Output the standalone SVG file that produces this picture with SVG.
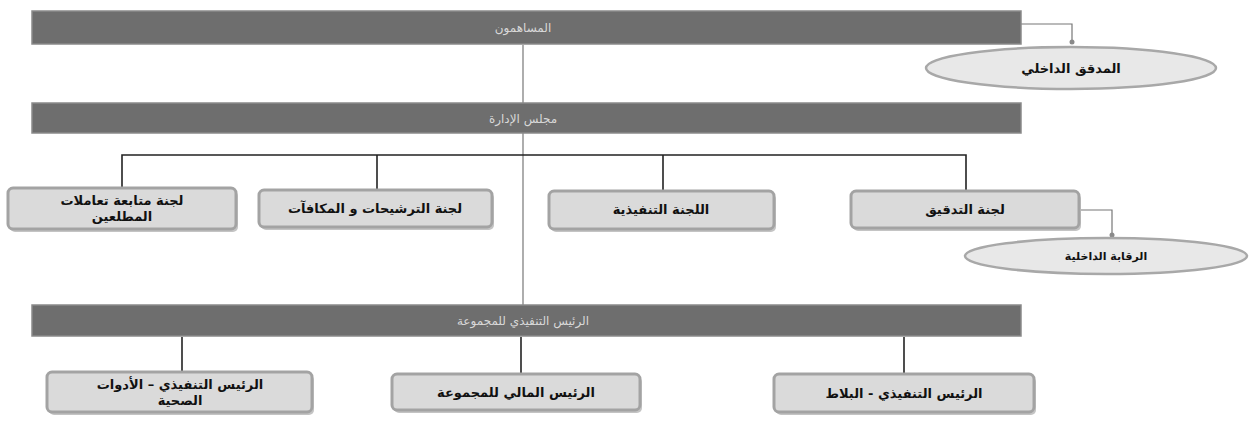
<svg xmlns="http://www.w3.org/2000/svg" width="1254" height="421" viewBox="0 0 1254 421">
<defs>
<style>
.bar{fill:#6e6e6e;stroke:#8a8a8a;stroke-width:1.5}
.bt{font-family:"DejaVu Sans",sans-serif;font-size:12px;fill:#d8d8d8;text-anchor:middle}
.box{fill:#dadada;stroke:#a3a3a3;stroke-width:3}
.shadow{fill:#c4c4c4}
.t{font-family:"DejaVu Sans",sans-serif;font-size:13px;font-weight:bold;fill:#111;text-anchor:middle}
.el{fill:#e8e8e8;stroke:#a8a8a8;stroke-width:2.5}
.ln{stroke:#222;stroke-width:1.6;fill:none}
.lg{stroke:#777;stroke-width:1.2;fill:none}
</style>
<marker id="dot" markerWidth="6" markerHeight="6" refX="3" refY="3" markerUnits="userSpaceOnUse">
<circle cx="3" cy="3" r="2.5" fill="#8a8a8a"/>
</marker>
</defs>
<rect width="1254" height="421" fill="#ffffff"/>
<g id="connectors">
<line class="lg" x1="523" y1="45" x2="523" y2="103"/>
<line class="lg" x1="523" y1="133" x2="523" y2="305"/>
<polyline class="ln" points="122,187 122,155 966,155 966,191"/>
<line class="ln" x1="377" y1="155" x2="377" y2="190"/>
<line class="ln" x1="663" y1="155" x2="663" y2="191"/>
<polyline class="lg" points="1021,24 1072,24 1072,42" marker-end="url(#dot)"/>
<polyline class="lg" points="1080,210 1112,210 1112,235" marker-end="url(#dot)"/>
<line class="ln" x1="182" y1="337" x2="182" y2="372"/>
<line class="ln" x1="521" y1="337" x2="521" y2="374"/>
<line class="ln" x1="904" y1="337" x2="904" y2="374"/>
</g>
<g id="shareholders">
<rect class="bar" x="32" y="11" width="989" height="33"/>
<text class="bt" x="523" y="32">المساهمون</text>
</g>
<g id="internal-auditor">
<ellipse class="el" cx="1071" cy="68" rx="145" ry="21"/>
<text class="t" x="1071" y="73">المدقق الداخلي</text>
</g>
<g id="board">
<rect class="bar" x="32" y="103" width="989" height="30"/>
<text class="bt" x="523" y="123">مجلس الإدارة</text>
</g>
<g id="insider-committee">
<rect class="shadow" x="10" y="191" width="228" height="41" rx="5"/>
<rect class="box" x="8" y="188" width="228" height="41" rx="5"/>
<text class="t" x="122" y="205">لجنة متابعة تعاملات</text>
<text class="t" x="122" y="221">المطلعين</text>
</g>
<g id="nominations-committee">
<rect class="shadow" x="261" y="193" width="233" height="37" rx="5"/>
<rect class="box" x="259" y="190" width="233" height="37" rx="5"/>
<text class="t" x="375" y="213">لجنة الترشيحات و المكافآت</text>
</g>
<g id="executive-committee">
<rect class="shadow" x="551" y="194" width="225" height="38" rx="5"/>
<rect class="box" x="549" y="191" width="225" height="38" rx="5"/>
<text class="t" x="661" y="214">اللجنة التنفيذية</text>
</g>
<g id="audit-committee">
<rect class="shadow" x="853" y="194" width="228" height="37" rx="5"/>
<rect class="box" x="851" y="191" width="228" height="37" rx="5"/>
<text class="t" x="965" y="214">لجنة التدقيق</text>
</g>
<g id="internal-control">
<ellipse class="el" cx="1106" cy="256" rx="141" ry="18"/>
<text class="t" x="1106" y="260" style="font-size:11px">الرقابة الداخلية</text>
</g>
<g id="group-ceo">
<rect class="bar" x="32" y="305" width="989" height="31"/>
<text class="bt" x="523" y="325">الرئيس التنفيذي للمجموعة</text>
</g>
<g id="ceo-sanitaryware">
<rect class="shadow" x="49" y="375" width="265" height="40" rx="5"/>
<rect class="box" x="47" y="372" width="265" height="40" rx="5"/>
<text class="t" x="180" y="389">الرئيس التنفيذي – الأدوات</text>
<text class="t" x="180" y="405">الصحية</text>
</g>
<g id="group-cfo">
<rect class="shadow" x="394" y="377" width="248" height="36" rx="5"/>
<rect class="box" x="392" y="374" width="248" height="36" rx="5"/>
<text class="t" x="516" y="397">الرئيس المالي للمجموعة</text>
</g>
<g id="ceo-tiles">
<rect class="shadow" x="776" y="377" width="260" height="38" rx="5"/>
<rect class="box" x="774" y="374" width="260" height="38" rx="5"/>
<text class="t" x="904" y="398">الرئيس التنفيذي - البلاط</text>
</g>
</svg>
